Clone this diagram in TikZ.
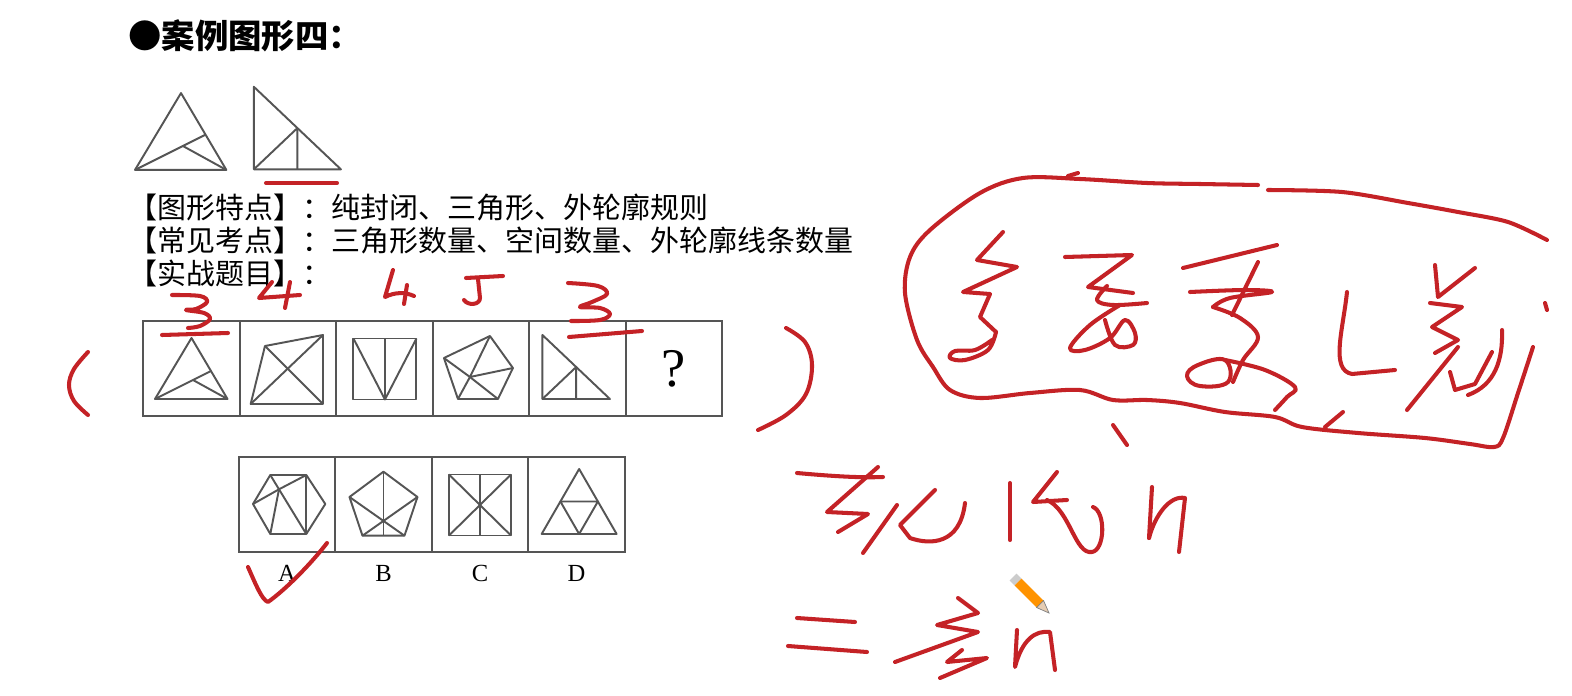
\documentclass[tikz,border=0pt]{standalone}
\usepackage{fontspec}
\setmainfont{Liberation Serif}
\newfontfamily\cjk{Noto Sans CJK SC}
\usepackage{tikz}
\usetikzlibrary{positioning,calc}
\definecolor{inkred}{RGB}{196,34,38}
\definecolor{linegray}{RGB}{85,85,85}

\begin{document}
\begin{tikzpicture}[x=0.02cm, y=-0.02cm, node distance=0.2cm,
  cell/.style={draw=linegray, line width=1.3pt, rectangle, minimum width=1.93cm, minimum height=1.9cm, inner sep=0pt, outer sep=0pt},
  fig/.style={draw=linegray, line width=1.1pt, line join=round},
  ink/.style={draw=inkred, line width=2.3pt, line cap=round, line join=round},
  txt/.style={font=\cjk\fontsize{16.5}{18}\selectfont, inner sep=0pt, minimum height=0.64cm}]
\useasboundingbox[fill=white] (0,0) rectangle (1572,696);

% heading and notes
\node[font=\cjk\bfseries\fontsize{19}{21}\selectfont, inner sep=0pt, anchor=west] (title) at (128,36) {●案例图形四：};
\node[txt, anchor=west] (feat) at (128,208) {【图形特点】：纯封闭、三角形、外轮廓规则};
\node[txt, below=0pt of feat.south west, anchor=north west] (points) {【常见考点】：三角形数量、空间数量、外轮廓线条数量};
\node[txt, below=0pt of points.south west, anchor=north west] (task) {【实战题目】：};

% the two sample triangles
\begin{scope}[shift={(181,131.5)}, scale=1.26]
\draw[fig] (0,-30.5) -- (-36.5,30.5) -- (36,30.5) -- cycle;
\draw[fig] (-36.5,30.5) -- (19.5,2.5);
\draw[fig] (1.5,11.5) -- (36,30.5);
\end{scope}
\begin{scope}[shift={(299,130)}, scale=1.29]
\draw[fig] (-35,-33.5) -- (-35,30.5) -- (32.5,30.5) -- cycle;
\draw[fig] (-35,30.5) -- (-1.25,-1.5) -- (-1.25,30.5);
\end{scope}

% question row
\node[cell] (c1) at (191.5,368.5) {};
\node[cell, right=0pt of c1] (c2) {};
\node[cell, right=0pt of c2] (c3) {};
\node[cell, right=0pt of c3] (c4) {};
\node[cell, right=0pt of c4] (c5) {};
\node[cell, right=0pt of c5, font=\fontsize{31}{33}\selectfont] (c6) {?};

\begin{scope}[shift={(c1)}]
\draw[fig] (0,-30.5) -- (-36.5,30.5) -- (36,30.5) -- cycle;
\draw[fig] (-36.5,30.5) -- (19.5,2.5);
\draw[fig] (1.5,11.5) -- (36,30.5);
\end{scope}
\begin{scope}[shift={(c2)}]
\draw[fig] (-23,-22.5) -- (35,-33.5) -- (35,35.5) -- (-37.3,35.5) -- cycle;
\draw[fig] (-23,-22.5) -- (35,35.5);
\draw[fig] (35,-33.5) -- (-37.3,35.5);
\end{scope}
\begin{scope}[shift={(c3)}]
\draw[fig] (-31,-30) rectangle (32,31);
\draw[fig] (0.5,-30) -- (0.5,31);
\draw[fig] (-31,-30) -- (0.5,31) -- (32,-30);
\end{scope}
\begin{scope}[shift={(c4)}]
\draw[fig] (-37,-10.5) -- (9,-32.5) -- (32,-0.5) -- (17,30.5) -- (-23,30.5) -- cycle;
\foreach \p in {(-37,-10.5),(9,-32.5),(32,-0.5),(17,30.5),(-23,30.5)}
  \draw[fig] (-11,8.5) -- \p;
\end{scope}
\begin{scope}[shift={(c5)}]
\draw[fig] (-35,-33.5) -- (-35,30.5) -- (32.5,30.5) -- cycle;
\draw[fig] (-35,30.5) -- (-1.25,-1.5) -- (-1.25,30.5);
\end{scope}

% answer row
\node[cell] (o1) at (287,504.5) {};
\node[cell, right=0pt of o1] (o2) {};
\node[cell, right=0pt of o2] (o3) {};
\node[cell, right=0pt of o3] (o4) {};
\node[below=0.15cm of o1, font=\fontsize{14}{16}\selectfont] (la) {A};
\node[below=0.15cm of o2, font=\fontsize{14}{16}\selectfont] (lb) {B};
\node[below=0.15cm of o3, font=\fontsize{14}{16}\selectfont] (lc) {C};
\node[below=0.15cm of o4, font=\fontsize{14}{16}\selectfont] (ld) {D};

\begin{scope}[shift={(o1)}]
\draw[fig] (-16.7,-29.5) -- (19.3,-29.5) -- (38.3,-0.5) -- (19.3,29.5) -- (-16.7,29.5) -- (-34,-0.5) -- cycle;
\draw[fig] (-16.7,-29.5) -- (-8,-15.2) -- (19.3,-29.5);
\draw[fig] (-8,-15.2) -- (-34,-0.5);
\draw[fig] (-8,-15.2) -- (-16.7,29.5);
\draw[fig] (-8,-15.2) -- (19.3,29.5);
\draw[fig] (19.3,-29.5) -- (19.3,29.5);
\end{scope}
\begin{scope}[shift={(o2)}]
\draw[fig] (0,-32.8) -- (34,-7.5) -- (21,31.2) -- (-21,31.2) -- (-34,-7.5) -- cycle;
\draw[fig] (0,-32.8) -- (0,31.2);
\draw[fig] (-34,-7.5) -- (21,31.2);
\draw[fig] (34,-7.5) -- (-21,31.2);
\end{scope}
\begin{scope}[shift={(o3)}]
\draw[fig] (-31,-30) rectangle (31,31);
\draw[fig] (-31,-30) -- (31,31);
\draw[fig] (31,-30) -- (-31,31);
\draw[fig] (0,-30) -- (0,31);
\end{scope}
\begin{scope}[shift={(o4)}]
\draw[fig] (2.7,-35.5) -- (-34.8,29.5) -- (40.2,29.5) -- cycle;
\draw[fig] (-16.05,-3) -- (21.45,-3) -- (2.7,29.5) -- cycle;
\end{scope}

% red ink: marks on the question
\draw[ink] (266,183) -- (337,183);
\draw[ink] plot[smooth, tension=0.6] coordinates {(172,295) (200,296) (207,302) (196,309) (186,310) (204,313) (210,319) (200,326) (188,328)};
\draw[ink] (162,335) -- (228,333);
\draw[ink] (272,282) -- (259,298) -- (300,295);
\draw[ink] (290,282) -- (285,308);
\draw[ink] (393,270) -- (385,297) .. controls (395,292) and (405,292) .. (414,296);
\draw[ink] (407,285) -- (404,304);
\draw[ink] (466,278) -- (503,276);
\draw[ink] (478,279) -- (480,298) .. controls (480,305) and (468,306) .. (464,300);
\draw[ink] plot[smooth, tension=0.6] coordinates {(568,283) (598,286) (607,294) (592,302) (580,307) (600,308) (610,314) (600,320) (571,321)};
\draw[ink] (569,337) -- (642,331);
\draw[ink] plot[smooth, tension=0.6] coordinates {(88,352) (74,369) (69,385) (74,401) (88,415)};
\draw[ink] plot[smooth, tension=0.6] coordinates {(786,328) (805,342) (812,365) (806,394) (786,415) (758,430)};
\draw[ink] (248,567) .. controls (256,585) and (262,600) .. (268,602) .. controls (285,590) and (310,565) .. (327,543);

% red ink: circled note
\draw[ink] plot[smooth, tension=0.55] coordinates {(1258,185) (1200,184) (1147,183) (1080,179) (1023,178) (980,193) (930,230) (910,257) (905,293) (917,340) (933,367) (950,390) (980,398) (1030,393) (1080,390) (1113,400) (1147,400) (1180,403) (1225,412) (1275,417) (1302,427) (1358,433) (1425,438) (1470,444) (1494,447) (1503,438) (1518,393) (1533,347)};
\draw[ink] plot[smooth] coordinates {(1268,190) (1342,192) (1408,203) (1458,212) (1508,222) (1547,240)};
\draw[ink] (1545,303) -- (1547,310);
\draw[ink] (1068,176) -- (1078,173);
\draw[ink] (1003,232) -- (977,260) -- (1017,267) -- (963,292) -- (990,294) -- (980,317) -- (996,332);
\draw[ink] plot[smooth, tension=0.6] coordinates {(996,332) (988,350) (965,360) (950,358) (955,351) (975,350) (992,340)};
\draw[ink] (1065,257) -- (1132,255) -- (1088,287) -- (1133,293);
\draw[ink] plot[smooth, tension=0.6] coordinates {(1107,286) (1097,300) (1113,305) (1147,303)};
\draw[ink] plot[smooth, tension=0.6] coordinates {(1120,305) (1090,325) (1070,348) (1085,350) (1110,338) (1125,320) (1135,333) (1133,345) (1115,345) (1105,320)};
\draw[ink] (1183,268) -- (1277,245);
\draw[ink] (1258,262) -- (1232,315);
\draw[ink] plot[smooth, tension=0.6] coordinates {(1190,292) (1245,290) (1272,292) (1230,298) (1213,307)};
\draw[ink] plot[smooth, tension=0.6] coordinates {(1213,307) (1240,318) (1258,337) (1243,360) (1233,382)};
\draw[ink] plot[smooth cycle, tension=0.7] coordinates {(1225,360) (1198,365) (1187,376) (1200,386) (1228,382)};
\draw[ink] plot[smooth, tension=0.6] coordinates {(1225,360) (1265,370) (1295,387) (1287,397) (1275,410)};
\draw[ink] (1347,292) .. controls (1343,330) and (1330,370) .. (1352,374) -- (1395,370);
\draw[ink] (1435,265) -- (1438,297) -- (1475,268);
\draw[ink] (1430,303) -- (1462,307) -- (1432,327) -- (1458,340) -- (1435,353);
\draw[ink] (1458,347) -- (1407,410);
\draw[ink] (1450,372) -- (1455,390) -- (1475,384) -- (1492,352);
\draw[ink] (1502,330) .. controls (1503,360) and (1495,385) .. (1468,395);
\draw[ink] (1325,427) -- (1343,412);
\draw[ink] (1113,425) -- (1127,445);

% red ink: lines below
\draw[ink] (797,473) .. controls (830,476) and (860,478) .. (883,477);
\draw[ink] (878,467) -- (827,512) -- (868,514) -- (838,532);
\draw[ink] (863,553) -- (897,505);
\draw[ink] (935,490) -- (900,525) -- (910,538) .. controls (930,545) and (960,545) .. (965,503);
\draw[ink] (1010,483) -- (1010,540);
\draw[ink] (1057,472) -- (1033,502) -- (1067,500);
\draw[ink] (1047,500) .. controls (1070,510) and (1075,555) .. (1092,552) .. controls (1105,550) and (1106,512) .. (1093,507);
\draw[ink] (1152,487) -- (1149,538);
\draw[ink] (1149,538) .. controls (1155,515) and (1170,495) .. (1185,498) -- (1179,552);
\draw[ink] (797,618) -- (855,622);
\draw[ink] (788,646) -- (867,652);
\draw[ink] (958,598) -- (978,613) -- (937,625) -- (978,632) -- (895,662);
\draw[ink] (962,650) -- (947,662) -- (987,658) -- (940,678);
\draw[ink] (1017,630) -- (1015,667) .. controls (1022,640) and (1035,630) .. (1050,632) -- (1055,670);

% pencil cursor
\draw[line width=5.5pt, draw=gray!40] (1013,577) -- (1018,582);
\draw[line width=5.5pt, draw=orange!85!yellow] (1018,582) -- (1040,604);
\fill[brown!40!white, draw=gray] (1043.5,600.5) -- (1036.5,607.5) -- (1049,613) -- cycle;
\end{tikzpicture}
\end{document}
